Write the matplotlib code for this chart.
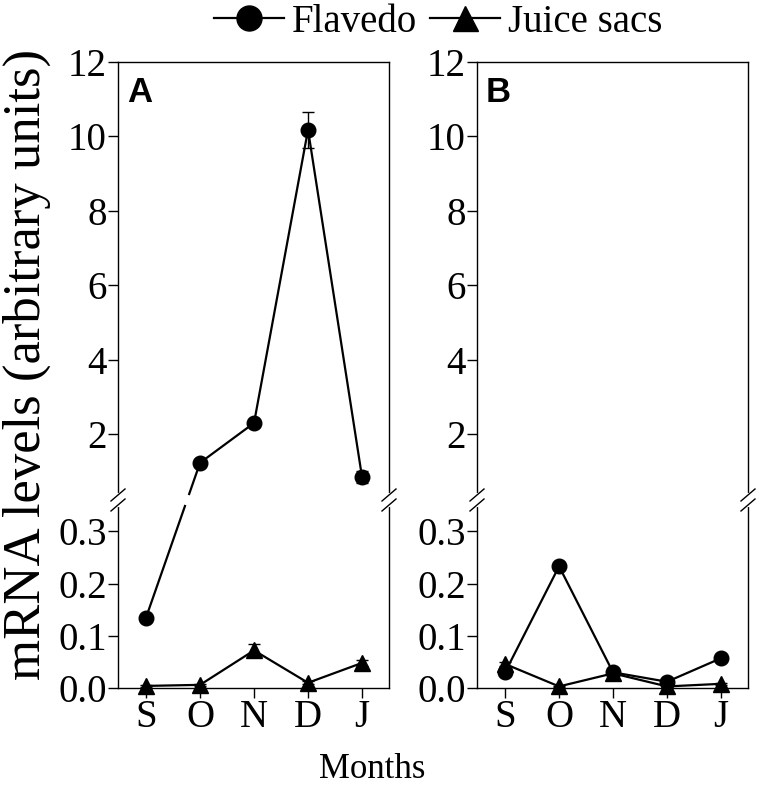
import matplotlib
matplotlib.use('Agg')
import matplotlib.pyplot as plt
from matplotlib.lines import Line2D
import numpy as np

plt.rcParams['font.family'] = ['Liberation Serif', 'DejaVu Serif']

# Data
months = ['S', 'O', 'N', 'D', 'J']
flavedo_a = [0.135, 1.23, 2.30, 10.18, 0.85]
flavedo_a_err = [0.005, 0.05, 0.06, 0.48, 0.16]
juice_a = [0.004, 0.006, 0.072, 0.010, 0.048]
juice_a_err = [0.002, 0.002, 0.012, 0.003, 0.006]
flavedo_b = [0.030, 0.233, 0.030, 0.012, 0.057]
flavedo_b_err = [0.006, 0.005, 0.004, 0.003, 0.004]
juice_b = [0.046, 0.003, 0.028, 0.003, 0.008]
juice_b_err = [0.004, 0.001, 0.004, 0.001, 0.002]

lo_lim = (0, 0.36)
hi_lim = (0.23, 12)

W, H = 759, 787
fig = plt.figure(figsize=(W / 100, H / 100), dpi=100)

def px(x0, y_top, w, h):
    return [x0 / W, 1 - (y_top + h) / H, w / W, h / H]

x = np.arange(len(months))
lw = 1.6
tick_fs = 28


def make_panel(x0, letter):
    ax_hi = fig.add_axes(px(x0, 62, 271, 438))
    ax_lo = fig.add_axes(px(x0, 500, 271, 188))
    for ax in (ax_hi, ax_lo):
        ax.set_xlim(-0.52, 4.5)
        for s in ax.spines.values():
            s.set_linewidth(1.0)
        ax.tick_params(direction='out', length=7, width=1.0, labelsize=tick_fs, pad=1)
    ax_hi.set_ylim(*hi_lim)
    ax_lo.set_ylim(*lo_lim)
    ax_hi.spines['bottom'].set_visible(False)
    ax_lo.spines['top'].set_visible(False)
    ax_hi.set_xticks([])
    ax_hi.set_yticks([2, 4, 6, 8, 10, 12])
    ax_lo.set_yticks([0.0, 0.1, 0.2, 0.3])
    ax_lo.set_yticklabels(['0.0', '0.1', '0.2', '0.3'])
    ax_lo.set_xticks(x)
    ax_lo.set_xticklabels(months)
    ax_hi.text(0.033, 0.968, letter, transform=ax_hi.transAxes, va='top', ha='left',
               fontsize=25, fontweight='bold', family='Liberation Sans')
    # break marks on both spines
    for xs in (0, 1):
        xa = x0 + xs * 271
        fig.add_artist(Line2D([xa / W] * 2, [1 - 505 / H, 1 - 495 / H],
                              color='white', lw=3, zorder=5))
        for dy in (-5, 5):
            ya = 500 + dy
            fig.add_artist(Line2D([(xa - 7) / W, (xa + 7) / W],
                                  [1 - (ya + 6) / H, 1 - (ya - 6) / H],
                                  color='black', lw=1.0, zorder=6))
    return ax_hi, ax_lo


def plot_series(ax_hi, ax_lo, y, err, marker, ms):
    y = np.array(y)
    err = np.array(err)
    hi_mask = y > lo_lim[1]
    y_hi = np.where(hi_mask, y, np.nan)
    y_lo = np.where(~hi_mask, y, np.nan)
    for ax, yy in ((ax_hi, y_hi), (ax_lo, y_lo)):
        ee = np.where(np.isnan(yy), np.nan, err)
        ax.errorbar(x, yy, yerr=ee, fmt='none', ecolor='black', elinewidth=1.0,
                    capsize=4, capthick=1.0, clip_on=False)
        ax.plot(x, yy, color='black', lw=lw, marker=marker, ms=ms,
                markerfacecolor='black', markeredgecolor='black', clip_on=False, zorder=3)
    # segments crossing the break, drawn with a gap at the break
    inv = fig.transFigure.inverted()
    yb = (1 - 500 / H) * fig.bbox.height
    gap = 6
    for i in range(len(y) - 1):
        if hi_mask[i] != hi_mask[i + 1]:
            p = np.array([(ax_hi if hi_mask[j] else ax_lo).transData.transform((x[j], y[j]))
                          for j in (i, i + 1)])
            lower_pt = p[np.argmin(p[:, 1])]
            upper_pt = p[np.argmax(p[:, 1])]
            cut = []
            for yy in (yb - gap, yb + gap):
                tt = (yy - lower_pt[1]) / (upper_pt[1] - lower_pt[1])
                cut.append(lower_pt + tt * (upper_pt - lower_pt))
            for a, b in ((lower_pt, cut[0]), (cut[1], upper_pt)):
                fa = inv.transform(a)
                fb = inv.transform(b)
                fig.add_artist(Line2D([fa[0], fb[0]], [fa[1], fb[1]], color='black', lw=lw))


axA_hi, axA_lo = make_panel(118, 'A')
axB_hi, axB_lo = make_panel(477, 'B')

plot_series(axA_hi, axA_lo, flavedo_a, flavedo_a_err, 'o', 10.5)
plot_series(axA_hi, axA_lo, juice_a, juice_a_err, '^', 11)
plot_series(axB_hi, axB_lo, flavedo_b, flavedo_b_err, 'o', 10.5)
plot_series(axB_hi, axB_lo, juice_b, juice_b_err, '^', 11)

fig.text(27 / W, 1 - 364 / H, 'mRNA levels (arbitrary units)', rotation=90,
         ha='center', va='center', fontsize=38)
fig.text(372 / W, 1 - 769 / H, 'Months', ha='center', va='center', fontsize=25)

handles = [Line2D([], [], color='black', lw=lw, marker='o', ms=18),
           Line2D([], [], color='black', lw=lw, marker='^', ms=18)]
fig.legend(handles, ['Flavedo', 'Juice sacs'], ncol=2, loc='center',
           bbox_to_anchor=(438 / W, 1 - 22 / H), frameon=False, fontsize=28,
           handlelength=1.8, handletextpad=0.2, columnspacing=0.35,
           borderpad=0, borderaxespad=0)

fig.savefig('out.png', dpi=100)
